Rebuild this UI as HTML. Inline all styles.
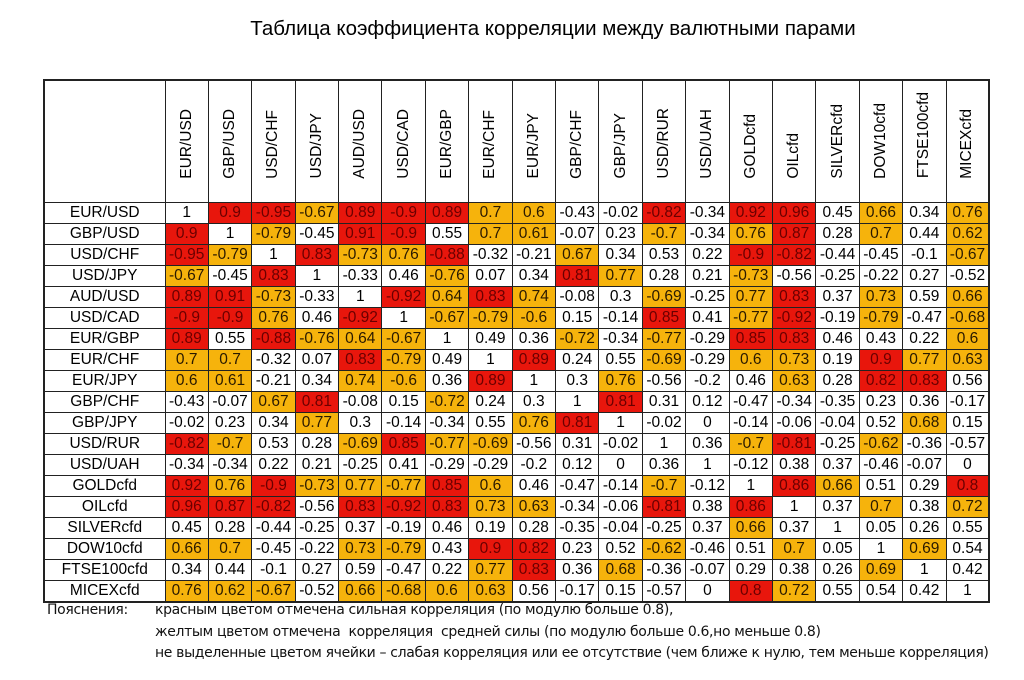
<!DOCTYPE html>
<html><head><meta charset="utf-8"><style>
body{margin:0;width:1024px;height:680px;background:#fff;position:relative;overflow:hidden;font-family:"Liberation Sans",Arial,sans-serif;color:#000}
.title{position:absolute;left:0;width:1106px;top:17px;text-align:center;font-size:20.5px}
table{position:absolute;left:43px;top:79px;width:945px;height:521px;border-collapse:collapse;table-layout:fixed;border:2px solid #222}
td,th{border:1.5px solid #222;padding:0;text-align:center;font-size:15.5px;font-weight:normal;white-space:nowrap;overflow:hidden}
tr{height:21px}
tr.h{height:122px}
td{height:20px;line-height:20px}
th{vertical-align:bottom;padding-bottom:18px}
th span{writing-mode:vertical-rl;transform:rotate(180deg);display:inline-block;font-size:15.5px}
.r{background:#e8160c;color:#6a0000}
.o{background:#f6b30c;color:#2a1a00}
.n{position:absolute;font-size:14px;font-family:"DejaVu Sans",sans-serif;color:#111;letter-spacing:-0.35px}
</style></head><body>
<div class="title">Таблица коэффициента корреляции между валютными парами</div>
<table>
<colgroup><col style="width:121px"><col span="19" style="width:43.4px"></colgroup>
<tr class="h"><th></th><th><span>EUR/USD</span></th><th><span>GBP/USD</span></th><th><span>USD/CHF</span></th><th><span>USD/JPY</span></th><th><span>AUD/USD</span></th><th><span>USD/CAD</span></th><th><span>EUR/GBP</span></th><th><span>EUR/CHF</span></th><th><span>EUR/JPY</span></th><th><span>GBP/CHF</span></th><th><span>GBP/JPY</span></th><th><span>USD/RUR</span></th><th><span>USD/UAH</span></th><th><span>GOLDcfd</span></th><th><span>OILcfd</span></th><th><span>SILVERcfd</span></th><th><span>DOW10cfd</span></th><th><span>FTSE100cfd</span></th><th><span>MICEXcfd</span></th></tr>
<tr><td class="l">EUR/USD</td><td>1</td><td class="r">0.9</td><td class="r">-0.95</td><td class="o">-0.67</td><td class="r">0.89</td><td class="r">-0.9</td><td class="r">0.89</td><td class="o">0.7</td><td class="o">0.6</td><td>-0.43</td><td>-0.02</td><td class="r">-0.82</td><td>-0.34</td><td class="r">0.92</td><td class="r">0.96</td><td>0.45</td><td class="o">0.66</td><td>0.34</td><td class="o">0.76</td></tr>
<tr><td class="l">GBP/USD</td><td class="r">0.9</td><td>1</td><td class="o">-0.79</td><td>-0.45</td><td class="r">0.91</td><td class="r">-0.9</td><td>0.55</td><td class="o">0.7</td><td class="o">0.61</td><td>-0.07</td><td>0.23</td><td class="o">-0.7</td><td>-0.34</td><td class="o">0.76</td><td class="r">0.87</td><td>0.28</td><td class="o">0.7</td><td>0.44</td><td class="o">0.62</td></tr>
<tr><td class="l">USD/CHF</td><td class="r">-0.95</td><td class="o">-0.79</td><td>1</td><td class="r">0.83</td><td class="o">-0.73</td><td class="o">0.76</td><td class="r">-0.88</td><td>-0.32</td><td>-0.21</td><td class="o">0.67</td><td>0.34</td><td>0.53</td><td>0.22</td><td class="r">-0.9</td><td class="r">-0.82</td><td>-0.44</td><td>-0.45</td><td>-0.1</td><td class="o">-0.67</td></tr>
<tr><td class="l">USD/JPY</td><td class="o">-0.67</td><td>-0.45</td><td class="r">0.83</td><td>1</td><td>-0.33</td><td>0.46</td><td class="o">-0.76</td><td>0.07</td><td>0.34</td><td class="r">0.81</td><td class="o">0.77</td><td>0.28</td><td>0.21</td><td class="o">-0.73</td><td>-0.56</td><td>-0.25</td><td>-0.22</td><td>0.27</td><td>-0.52</td></tr>
<tr><td class="l">AUD/USD</td><td class="r">0.89</td><td class="r">0.91</td><td class="o">-0.73</td><td>-0.33</td><td>1</td><td class="r">-0.92</td><td class="o">0.64</td><td class="r">0.83</td><td class="o">0.74</td><td>-0.08</td><td>0.3</td><td class="o">-0.69</td><td>-0.25</td><td class="o">0.77</td><td class="r">0.83</td><td>0.37</td><td class="o">0.73</td><td>0.59</td><td class="o">0.66</td></tr>
<tr><td class="l">USD/CAD</td><td class="r">-0.9</td><td class="r">-0.9</td><td class="o">0.76</td><td>0.46</td><td class="r">-0.92</td><td>1</td><td class="o">-0.67</td><td class="o">-0.79</td><td class="o">-0.6</td><td>0.15</td><td>-0.14</td><td class="r">0.85</td><td>0.41</td><td class="o">-0.77</td><td class="r">-0.92</td><td>-0.19</td><td class="o">-0.79</td><td>-0.47</td><td class="o">-0.68</td></tr>
<tr><td class="l">EUR/GBP</td><td class="r">0.89</td><td>0.55</td><td class="r">-0.88</td><td class="o">-0.76</td><td class="o">0.64</td><td class="o">-0.67</td><td>1</td><td>0.49</td><td>0.36</td><td class="o">-0.72</td><td>-0.34</td><td class="o">-0.77</td><td>-0.29</td><td class="r">0.85</td><td class="r">0.83</td><td>0.46</td><td>0.43</td><td>0.22</td><td class="o">0.6</td></tr>
<tr><td class="l">EUR/CHF</td><td class="o">0.7</td><td class="o">0.7</td><td>-0.32</td><td>0.07</td><td class="r">0.83</td><td class="o">-0.79</td><td>0.49</td><td>1</td><td class="r">0.89</td><td>0.24</td><td>0.55</td><td class="o">-0.69</td><td>-0.29</td><td class="o">0.6</td><td class="o">0.73</td><td>0.19</td><td class="r">0.9</td><td class="o">0.77</td><td class="o">0.63</td></tr>
<tr><td class="l">EUR/JPY</td><td class="o">0.6</td><td class="o">0.61</td><td>-0.21</td><td>0.34</td><td class="o">0.74</td><td class="o">-0.6</td><td>0.36</td><td class="r">0.89</td><td>1</td><td>0.3</td><td class="o">0.76</td><td>-0.56</td><td>-0.2</td><td>0.46</td><td class="o">0.63</td><td>0.28</td><td class="r">0.82</td><td class="r">0.83</td><td>0.56</td></tr>
<tr><td class="l">GBP/CHF</td><td>-0.43</td><td>-0.07</td><td class="o">0.67</td><td class="r">0.81</td><td>-0.08</td><td>0.15</td><td class="o">-0.72</td><td>0.24</td><td>0.3</td><td>1</td><td class="r">0.81</td><td>0.31</td><td>0.12</td><td>-0.47</td><td>-0.34</td><td>-0.35</td><td>0.23</td><td>0.36</td><td>-0.17</td></tr>
<tr><td class="l">GBP/JPY</td><td>-0.02</td><td>0.23</td><td>0.34</td><td class="o">0.77</td><td>0.3</td><td>-0.14</td><td>-0.34</td><td>0.55</td><td class="o">0.76</td><td class="r">0.81</td><td>1</td><td>-0.02</td><td>0</td><td>-0.14</td><td>-0.06</td><td>-0.04</td><td>0.52</td><td class="o">0.68</td><td>0.15</td></tr>
<tr><td class="l">USD/RUR</td><td class="r">-0.82</td><td class="o">-0.7</td><td>0.53</td><td>0.28</td><td class="o">-0.69</td><td class="r">0.85</td><td class="o">-0.77</td><td class="o">-0.69</td><td>-0.56</td><td>0.31</td><td>-0.02</td><td>1</td><td>0.36</td><td class="o">-0.7</td><td class="r">-0.81</td><td>-0.25</td><td class="o">-0.62</td><td>-0.36</td><td>-0.57</td></tr>
<tr><td class="l">USD/UAH</td><td>-0.34</td><td>-0.34</td><td>0.22</td><td>0.21</td><td>-0.25</td><td>0.41</td><td>-0.29</td><td>-0.29</td><td>-0.2</td><td>0.12</td><td>0</td><td>0.36</td><td>1</td><td>-0.12</td><td>0.38</td><td>0.37</td><td>-0.46</td><td>-0.07</td><td>0</td></tr>
<tr><td class="l">GOLDcfd</td><td class="r">0.92</td><td class="o">0.76</td><td class="r">-0.9</td><td class="o">-0.73</td><td class="o">0.77</td><td class="o">-0.77</td><td class="r">0.85</td><td class="o">0.6</td><td>0.46</td><td>-0.47</td><td>-0.14</td><td class="o">-0.7</td><td>-0.12</td><td>1</td><td class="r">0.86</td><td class="o">0.66</td><td>0.51</td><td>0.29</td><td class="r">0.8</td></tr>
<tr><td class="l">OILcfd</td><td class="r">0.96</td><td class="r">0.87</td><td class="r">-0.82</td><td>-0.56</td><td class="r">0.83</td><td class="r">-0.92</td><td class="r">0.83</td><td class="o">0.73</td><td class="o">0.63</td><td>-0.34</td><td>-0.06</td><td class="r">-0.81</td><td>0.38</td><td class="r">0.86</td><td>1</td><td>0.37</td><td class="o">0.7</td><td>0.38</td><td class="o">0.72</td></tr>
<tr><td class="l">SILVERcfd</td><td>0.45</td><td>0.28</td><td>-0.44</td><td>-0.25</td><td>0.37</td><td>-0.19</td><td>0.46</td><td>0.19</td><td>0.28</td><td>-0.35</td><td>-0.04</td><td>-0.25</td><td>0.37</td><td class="o">0.66</td><td>0.37</td><td>1</td><td>0.05</td><td>0.26</td><td>0.55</td></tr>
<tr><td class="l">DOW10cfd</td><td class="o">0.66</td><td class="o">0.7</td><td>-0.45</td><td>-0.22</td><td class="o">0.73</td><td class="o">-0.79</td><td>0.43</td><td class="r">0.9</td><td class="r">0.82</td><td>0.23</td><td>0.52</td><td class="o">-0.62</td><td>-0.46</td><td>0.51</td><td class="o">0.7</td><td>0.05</td><td>1</td><td class="o">0.69</td><td>0.54</td></tr>
<tr><td class="l">FTSE100cfd</td><td>0.34</td><td>0.44</td><td>-0.1</td><td>0.27</td><td>0.59</td><td>-0.47</td><td>0.22</td><td class="o">0.77</td><td class="r">0.83</td><td>0.36</td><td class="o">0.68</td><td>-0.36</td><td>-0.07</td><td>0.29</td><td>0.38</td><td>0.26</td><td class="o">0.69</td><td>1</td><td>0.42</td></tr>
<tr><td class="l">MICEXcfd</td><td class="o">0.76</td><td class="o">0.62</td><td class="o">-0.67</td><td>-0.52</td><td class="o">0.66</td><td class="o">-0.68</td><td class="o">0.6</td><td class="o">0.63</td><td>0.56</td><td>-0.17</td><td>0.15</td><td>-0.57</td><td>0</td><td class="r">0.8</td><td class="o">0.72</td><td>0.55</td><td>0.54</td><td>0.42</td><td>1</td></tr>
</table>
<div class="n" style="left:47px;top:602px">Пояснения:</div>
<div class="n" style="left:155px;top:602px">красным цветом отмечена сильная корреляция (по модулю больше 0.8),</div>
<div class="n" style="left:155px;top:624px">желтым цветом отмечена&nbsp; корреляция&nbsp; средней силы (по модулю больше 0.6,но меньше 0.8)</div>
<div class="n" style="left:155px;top:645px">не выделенные цветом ячейки – слабая корреляция или ее отсутствие (чем ближе к нулю, тем меньше корреляция)</div>
</body></html>
